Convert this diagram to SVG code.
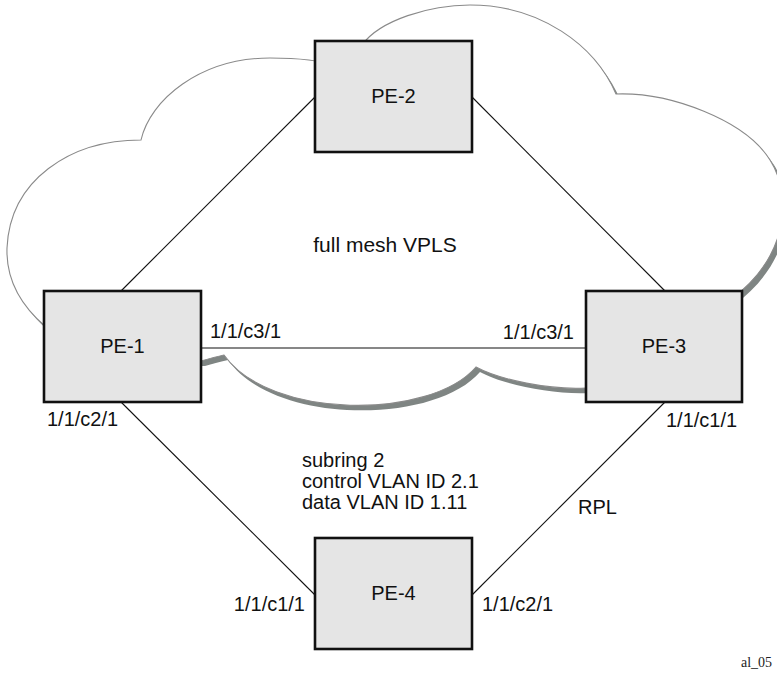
<svg xmlns="http://www.w3.org/2000/svg" width="777" height="673" viewBox="0 0 777 673">
<style>
.box{fill:#e5e5e5;stroke:#111;stroke-width:2.6}
.lbl{font-family:"Liberation Sans",Arial,sans-serif;font-size:20px;fill:#111}
.name{font-family:"Liberation Sans",Arial,sans-serif;font-size:20px;fill:#111;text-anchor:middle}
.link{stroke:#111;stroke-width:1.1;fill:none}
</style>
<defs>
<path id="cloudPath" d="M46,327 C20,305 6,278 7,248 C10,180 70,140 141,140 C150,100 200,58 270,58 C300,58 320,60 335,66 L362,45 C380,20 430,5 470,5 C540,5 595,45 616,94 C670,92 745,120 770,160 C795,200 785,260 730,300 L640,385 L586,388 C550,390 500,380 476,367 C430,420 270,420 224,355 C215,357 208,359 201,361 L120,360 Z"/>
</defs>
<g id="cloud">
<use href="#cloudPath" transform="translate(4,5)" fill="#7f8583" stroke="none"/>
<use href="#cloudPath" fill="#fff" stroke="#8a8a8a" stroke-width="1.1"/>
</g>
<g id="connectors">
<line class="link" x1="121" y1="291" x2="315" y2="97"/>
<line class="link" x1="472" y1="97" x2="665" y2="291"/>
<line class="link" x1="201" y1="348" x2="586" y2="348"/>
<line class="link" x1="121" y1="402" x2="315" y2="595"/>
<line class="link" x1="665" y1="402" x2="472" y2="595"/>
</g>
<g id="pe1"><rect class="box" x="44" y="291" width="157" height="111"/><text class="name" x="122.5" y="353">PE-1</text></g>
<g id="pe2"><rect class="box" x="315" y="41" width="157" height="111"/><text class="name" x="393.5" y="103">PE-2</text></g>
<g id="pe3"><rect class="box" x="586" y="291" width="156" height="111"/><text class="name" x="664" y="353">PE-3</text></g>
<g id="pe4"><rect class="box" x="315" y="538" width="157" height="111"/><text class="name" x="393.5" y="600">PE-4</text></g>
<g id="labels">
<text class="name" x="385" y="252" style="font-size:21px">full mesh VPLS</text>
<text class="lbl" x="210" y="338">1/1/c3/1</text>
<text class="lbl" x="574" y="339" text-anchor="end">1/1/c3/1</text>
<text class="lbl" x="47" y="426">1/1/c2/1</text>
<text class="lbl" x="666" y="427">1/1/c1/1</text>
<text class="lbl" x="302" y="467">subring 2</text>
<text class="lbl" x="302" y="488">control VLAN ID 2.1</text>
<text class="lbl" x="302" y="509">data VLAN ID 1.11</text>
<text class="lbl" x="578" y="514">RPL</text>
<text class="lbl" x="305" y="611" text-anchor="end">1/1/c1/1</text>
<text class="lbl" x="482" y="611">1/1/c2/1</text>
<text x="741" y="667" font-family="'Liberation Serif','Times New Roman',serif" font-size="14" fill="#222">al_05</text>
</g>
</svg>
